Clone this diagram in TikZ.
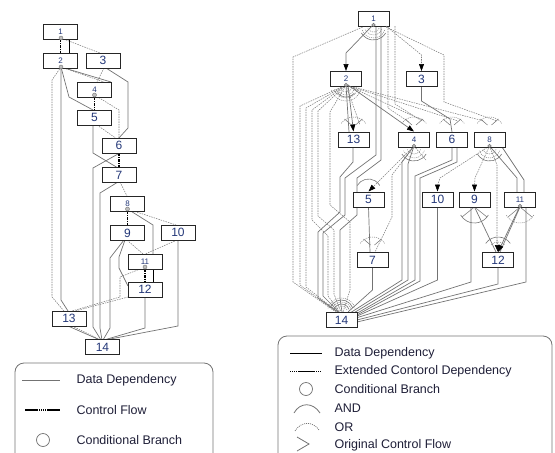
\documentclass[tikz,border=0pt]{standalone}
\usepackage{fontspec}
\setmainfont{Liberation Sans}
\usetikzlibrary{arrows.meta,calc}
\definecolor{numc}{RGB}{35,55,120}
\definecolor{dgray}{RGB}{115,115,115}
\definecolor{txtc}{RGB}{30,30,55}
\begin{document}
\begin{tikzpicture}[x=1pt,y=-1pt,
  lbox/.style={draw=black!85,line width=1pt,minimum width=34pt,minimum height=15pt,inner sep=0pt,font=\fontsize{12}{12}\selectfont,text=numc,fill=white},
  rbox/.style={lbox,minimum width=31pt},
  sm/.style={font=\fontsize{8}{8}\selectfont},
  data/.style={draw=dgray,line width=0.7pt},
  datab/.style={draw=black,line width=0.9pt},
  ext/.style={draw=gray,line width=0.55pt,dash pattern=on 1.5pt off 1pt},
  ctrl/.style={draw=black,line width=1.1pt,dash pattern=on 2.5pt off 1pt on 1pt off 1pt},
  cb/.style={circle,fill=gray!50,draw=dgray,line width=0.4pt,inner sep=0pt,minimum size=4pt},
  andarc/.style={draw=dgray,line width=0.6pt},
  orarc/.style={draw=gray,line width=0.5pt,dash pattern=on 1pt off 1pt},
  arr/.style={-{Triangle[length=7pt,width=5pt,color=black,fill=black]}},
  legtext/.style={anchor=west,font=\fontsize{12.5}{12.5}\selectfont,text=txtc}
]
\useasboundingbox (0,0) rectangle (555,453);

% ================= LEFT DIAGRAM =================
\coordinate (l1b) at (61,38);
\coordinate (l2b) at (61,67);
\coordinate (l4b) at (94.5,95);
\coordinate (l8b) at (127.5,209);
\coordinate (l11b) at (145,267);

\draw[ext] (l1b) -- (100,53);
\draw[ext] (l2b) -- (104,82);
\draw[data] (l2b) -- (111,82);
\draw[data] (l2b) -- (69,97) -- (93,110);
\draw[data] (l2b) -- (61,300) -- (68,311);
\draw[ext] (l2b) -- (52,80) -- (52,297) -- (64,311);
\draw[ext] (104,68) -- (97,82);
\draw[data] (106,68) -- (128,82) -- (128,128) -- (118,139);
\draw[ext] (l4b) -- (119,110) -- (119,139);
\draw[ext] (97,125) -- (117,139);
\draw[data] (93,125) -- (93,153) -- (118,168);
\draw[data] (118,154) -- (93,168) -- (93,327) -- (101,340);
\draw[data] (118,182) -- (100,193) -- (100,328) -- (102,340);
\draw[ext] (120,182) -- (127,196);
\draw[ext] (l8b) -- (176,225);
\draw[data] (l8b) -- (153,225) -- (153,254);
\draw[ext] (127,240) -- (143,254);
\draw[ext] (177,240) -- (145,254);
\draw[data] (125,240) -- (119,257) -- (119,268) -- (128,286);
\draw[data] (124,240) -- (110,258) -- (110,328) -- (103,340);
\draw[datab] (153,269) -- (153,282);
\draw[ext] (l11b) -- (120,277) -- (120,297) -- (72,311);
\draw[ext] (128,297) -- (75,311);
\draw[data] (145,297) -- (145,328) -- (104,340);
\draw[data] (178,240) -- (178,326) -- (105,340);
\draw[data] (68,326) -- (100,340);
\draw[ext] (72,326) -- (101,340);
\draw[datab] (69,39) -- (69,53);

\node[lbox,sm] (L1) at (60.5,31.5) {1};
\node[lbox,sm] (L2) at (60.5,60.5) {2};
\node[lbox] (L3) at (103,60.5) {3};
\node[lbox,sm] (L4) at (94.5,89.5) {4};
\node[lbox] (L5) at (94.5,117.5) {5};
\node[lbox] (L6) at (119,145.5) {6};
\node[lbox] (L7) at (119,175) {7};
\node[lbox,sm] (L8) at (127.5,203.5) {8};
\node[lbox] (L9) at (127.5,233) {9};
\node[lbox] (L10) at (178,232.5) {10};
\node[lbox,sm] (L11) at (145,261.5) {11};
\node[lbox] (L12) at (145,289.5) {12};
\node[lbox] (L13) at (69,318.5) {13};
\node[lbox] (L14) at (102.5,347) {14};

\draw[ctrl] (L1.south) -- (L2.north);
\draw[ctrl] (L4.south) -- (L5.north);
\draw[ctrl] (L6.south) -- (L7.north);
\draw[ctrl] (L8.south) -- (L9.north);
\draw[ctrl] (L11.south) -- (L12.north);
\foreach \c in {l1b,l2b,l4b,l8b,l11b} \node[cb] at (\c) {};

% left legend
\draw[draw=dgray,line width=0.8pt,rounded corners=9pt] (15,363) rectangle (213,480);
\coordinate (lg1) at (22,380);
\draw[data,line width=1pt] (lg1) -- ++(38,0);
\node[legtext] (lt1) at (73,380) {Data Dependency};
\draw[black,line width=1.6pt] (25,410) -- (37,410);
\draw[black,line width=1.2pt,dash pattern=on 1pt off 1pt] (37,410) -- (48,410);
\draw[black,line width=1.6pt] (48,410) -- (60,410);
\node[legtext] (lt2) at (73,410) {Control Flow};
\node[circle,draw=dgray,line width=0.7pt,minimum size=13pt,inner sep=0pt] (lc) at (43,440) {};
\node[legtext] (lt3) at (73,440) {Conditional Branch};

% ================= RIGHT DIAGRAM =================
\coordinate (r1b) at (373.5,25);
\coordinate (r2b) at (346,85);
\coordinate (r4b) at (414,146);
\coordinate (r8b) at (489.5,146);
\coordinate (r11b) at (520,206);

\draw[ext] (365,26) -- (293,57) -- (293,282) -- (336,312);
\draw[ext] (384,26) -- (444,55) -- (444,102) -- (497,121);
\draw[data] (376,26) -- (376,155) -- (345,178) -- (345,215) -- (323,233) -- (323,296) -- (339,312);
\draw[ext] (388,26) -- (388,108) -- (409,122);
\draw[ext] (395,26) -- (395,104) -- (422,121);
\draw[ext] (r2b) -- (300,106) -- (300,285) -- (337,312);
\draw[ext] (r2b) -- (306,108) -- (306,287) -- (338,312);
\draw[ext] (r2b) -- (312,110) -- (312,220) -- (328,236) -- (328,296) -- (340,312);
\draw[ext] (r2b) -- (318,111) -- (318,216) -- (334,230) -- (334,294) -- (341,312);
\draw[ext] (r2b) -- (330,112) -- (330,205) -- (350,222) -- (350,290) -- (343,312);
\draw[data] (353,147) -- (353,162) -- (340,177) -- (340,212) -- (318,232) -- (318,298) -- (338,312);
\draw[data] (381,26) -- (381,160) -- (357,178) -- (357,215) -- (340,230) -- (340,298) -- (342,312);
\draw[ext] (r2b) -- (360,125);
\draw[ext] (r2b) -- (424,121);
\draw[ext] (r2b) -- (458,121);
\draw[ext] (r2b) -- (484,121);
\draw[data] (r2b) -- (349,132);
\draw[data] (421.5,86) -- (421.5,101) -- (450,119) -- (452,132);
\draw[data] (r4b) -- (402,162) -- (402,280) -- (350,313);
\draw[data] (r4b) -- (408,164) -- (408,280) -- (352,314);
\draw[ext] (r4b) -- (392,175) -- (392,217) -- (375,252);
\draw[ext] (r4b) -- (426,160);
\draw[data] (452,147) -- (452,160) -- (415,176) -- (415,280) -- (354,315);
\draw[data] (457,147) -- (457,162) -- (420,178) -- (420,281) -- (355,316);
\draw[data] (368.5,207) -- (370,252);
\draw[data] (372.5,268) -- (372.5,290) -- (348,312);
\draw[ext] (r8b) -- (440,178) -- (437.5,186);
\draw[ext] (r8b) -- (475,178) -- (474.5,186);
\draw[data] (r8b) -- (517,178) -- (517,192);
\draw[data] (502,147) -- (524,180) -- (524,192);
\draw[ext] (r8b) -- (497,165) -- (497,246);
\draw[data] (474.5,207) -- (496,252);
\draw[data] (437.5,207) -- (437.5,280) -- (355,317);
\draw[data] (471,207) -- (471,282) -- (356,318);
\draw[data] (498,268) -- (498,284) -- (357,320);
\draw[data] (526,207) -- (526,282) -- (357,322);

\foreach \r in {6,9,12} \draw[orarc] (373.5,26) ++(20:\r) arc (20:160:\r);
\draw[andarc] (373.5,26) ++(30:14) arc (30:150:14);
\foreach \r in {6,9,12,15} \draw[orarc] (346,86) ++(15:\r) arc (15:165:\r);
\draw[andarc] (346,86) ++(40:11) arc (40:140:11);
\foreach \r in {7,11} \draw[orarc] (414,147) ++(20:\r) arc (20:160:\r);
\draw[andarc] (414,147) ++(30:14) arc (30:150:14);
\foreach \r in {7,11} \draw[orarc] (489.5,147) ++(20:\r) arc (20:160:\r);
\draw[andarc] (489.5,147) ++(30:14) arc (30:150:14);
\foreach \cx/\cy in {353.5/132,414/132,452/132,489.5/132,372.5/252} {
  \draw[orarc] (\cx,\cy) ++(215:15) arc (215:325:15);
  \draw[data,line width=0.5pt] (\cx-9,\cy-13) -- (\cx-2,\cy-7);
  \draw[data,line width=0.5pt] (\cx+9,\cy-13) -- (\cx+2,\cy-7);
}
\draw[andarc] (368.5,192) ++(210:13) arc (210:330:13);
\draw[andarc] (498,252) ++(215:15) arc (215:325:15);
\draw[orarc] (498,252) ++(225:10) arc (225:315:10);
\draw[andarc] (474.5,207) ++(30:16) arc (30:150:16);
\draw[data,line width=0.5pt] (474.5,207) -- (462,217);
\draw[data,line width=0.5pt] (474.5,207) -- (487,217);
\draw[orarc] (520,207) ++(30:16) arc (30:150:16);
\draw[data,line width=0.5pt] (520,207) -- (508,217);
\draw[data,line width=0.5pt] (520,207) -- (532,217);
\draw[data] (520,207) -- (500,252);
\foreach \r in {6,10,14} \draw[orarc] (341.5,312) ++(195:\r) arc (195:345:\r);
\foreach \r in {8,12} \draw[andarc] (341.5,312) ++(200:\r) arc (200:340:\r);

\node[rbox,sm] (R1) at (373.5,19) {1};
\node[rbox,sm] (R2) at (346,79) {2};
\node[rbox] (R3) at (421.5,79) {3};
\node[rbox] (R13) at (353.5,139.5) {13};
\node[rbox,sm] (R4) at (414,139.5) {4};
\node[rbox] (R6) at (452,139.5) {6};
\node[rbox,sm] (R8) at (489.5,139.5) {8};
\node[rbox] (R5) at (368.5,199.5) {5};
\node[rbox] (R10) at (437.5,199.5) {10};
\node[rbox] (R9) at (474.5,199.5) {9};
\node[rbox,sm] (R11) at (520,199.5) {11};
\node[rbox] (R7) at (372.5,260) {7};
\node[rbox] (R12) at (498,260) {12};
\node[rbox] (R14) at (341.5,320) {14};

\draw[data,arr] (372,26) -- (346,53) -- (R2.north);
\draw[ext,arr] (386,26) -- (421.5,55) -- (R3.north);
\draw[data,arr] ([xshift=2pt]r2b) -- (R13.north);
\draw[data,arr] ([xshift=2pt]r2b) -- (R4.north);
\draw[ext,arr] (r4b) -- (388,172) -- (R5.north);
\draw[ext,arr] (437.5,185) -- (R10.north);
\draw[ext,arr] (474.5,185) -- (R9.north);
\draw[ext,arr] (497,240) -- (R12.north);
\draw[data,arr] (r11b) -- (R12.north);

\foreach \c in {r1b,r2b,r4b,r8b,r11b} \node[cb,minimum size=3.5pt] at (\c) {};

% right legend
\draw[draw=dgray,line width=0.8pt,rounded corners=9pt] (278,336) rectangle (552,480);
\draw[black,line width=0.9pt] (290,353) -- (322,353);
\node[legtext] (rt1) at (331,353) {Data Dependency};
\draw[black,line width=0.7pt,dash pattern=on 1pt off 1pt] (290,371) -- (298,371);
\draw[black,line width=0.9pt] (298,371) -- (314,371);
\draw[black,line width=0.7pt,dash pattern=on 1pt off 1pt] (314,371) -- (322,371);
\node[legtext] (rt2) at (331,371) {Extended Contorol Dependency};
\node[circle,draw=dgray,line width=0.7pt,minimum size=13pt,inner sep=0pt] (rc) at (306,389) {};
\node[legtext] (rt3) at (331,389) {Conditional Branch};
\draw[dgray,line width=0.8pt] (294,413) .. controls (300,402) and (313,402) .. (320,413);
\node[legtext] (rt4) at (331,408) {AND};
\draw[dgray,line width=0.7pt,dash pattern=on 1pt off 1pt] (295,431) .. controls (301,421) and (313,421) .. (319,430);
\node[legtext] (rt5) at (331,427) {OR};
\draw[dgray,line width=0.8pt] (297,437) -- (309,444) -- (297,451);
\node[legtext] (rt6) at (331,445) {Original Control Flow};

\end{tikzpicture}
\end{document}
